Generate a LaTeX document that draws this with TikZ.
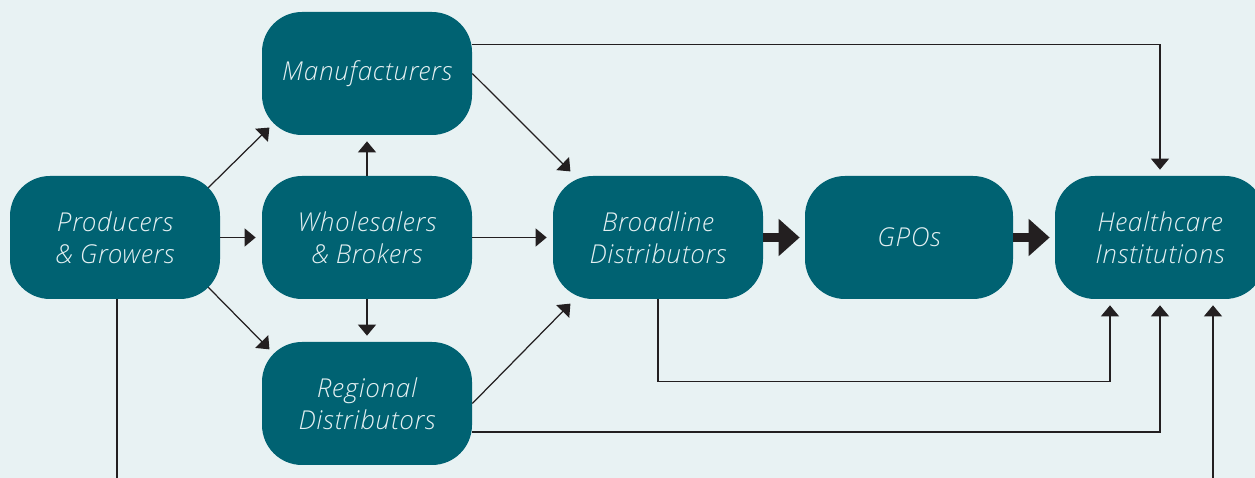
\documentclass[tikz,border=0pt]{standalone}
\usepackage{fontspec}
\setmainfont{Open Sans}[ItalicFont={Open Sans Light Italic}, LetterSpace=3]
\usepackage{tikz}
\usetikzlibrary{arrows.meta,calc,backgrounds}
\definecolor{boxteal}{HTML}{006272}
\definecolor{boxtext}{HTML}{E4F0F2}
\definecolor{paper}{HTML}{E8F2F3}
\definecolor{ink}{HTML}{231F20}

\begin{document}
\begin{tikzpicture}
  \tikzstyle{box}=[fill=boxteal, rounded corners=0.8cm, minimum width=4.2cm, minimum height=2.46cm,
    text=boxtext, align=center, inner sep=0pt, font=\itshape\fontsize{14.8}{18.2}\selectfont]
  \tikzstyle{link}=[draw=ink, line width=0.7pt, -{Triangle[width=0.36cm,length=0.22cm]}, shorten >=0.12cm]
  \tikzstyle{bigarrow}=[draw=ink, line width=0.18cm, -{Triangle[width=0.72cm,length=0.42cm]}, shorten >=0.1cm]

  \fill[paper] (0,0) rectangle (25.1,9.56);
  \useasboundingbox (0,0) rectangle (25.1,9.56);

  % Boxes
  \node[box] (prod)   at (2.30,4.81)  {Producers\\\& Growers};
  \node[box] (manu)   at (7.34,8.09)  {Manufacturers};
  \node[box] (whole)  at (7.34,4.81)  {Wholesalers\\\& Brokers};
  \node[box] (reg)    at (7.34,1.49)  {Regional\\Distributors};
  \node[box] (broad)  at (13.16,4.81) {Broadline\\Distributors};
  \node[box, minimum width=4.16cm] (gpo) at (18.18,4.81) {GPOs};
  \node[box] (health) at (23.20,4.81) {Healthcare\\Institutions};

  % free ends at the bottom edge
  \coordinate (out) at (2.34,0);
  \coordinate (in)  at (24.26,0);

  % Producers fan out
  \draw[link] ($(prod.north east)+(-.24,-.24)$) -- ($(manu.south west)+(.24,.24)$);
  \draw[link] (prod.east) -- (whole.west);
  \draw[link] ($(prod.south east)+(-.24,.24)$) -- ($(reg.north west)+(.24,-.24)$);
  \draw[ink, line width=0.7pt] (prod.south -| out) -- (out);

  % Wholesalers
  \foreach \from/\to in {whole.north/manu.south, whole.south/reg.north, whole.east/broad.west}{
  \draw[link] (\from) -- (\to);
  }

  % into Broadline
  \draw[link] (manu.east) -- ($(broad.north west)+(.44,0)$);
  \draw[link] (reg.east) -- ($(broad.south west)+(.44,0)$);

  % main chain
  \draw[bigarrow] (broad.east) -- (gpo.west);
  \draw[bigarrow] (gpo.east) -- (health.west);

  % into Healthcare
  \draw[link] ($(manu.north east)+(0,-.66)$) -| (health.north);
  \draw[link] (broad.south) -- ++(0,-1.64) -| ($(health.south)+(-1,0)$);
  \draw[link] ($(reg.east)+(0,-.57)$) -| (health.south);
  \draw[link] (in) -- ($(health.south)+(1.06,0)$);

\end{tikzpicture}
\end{document}
